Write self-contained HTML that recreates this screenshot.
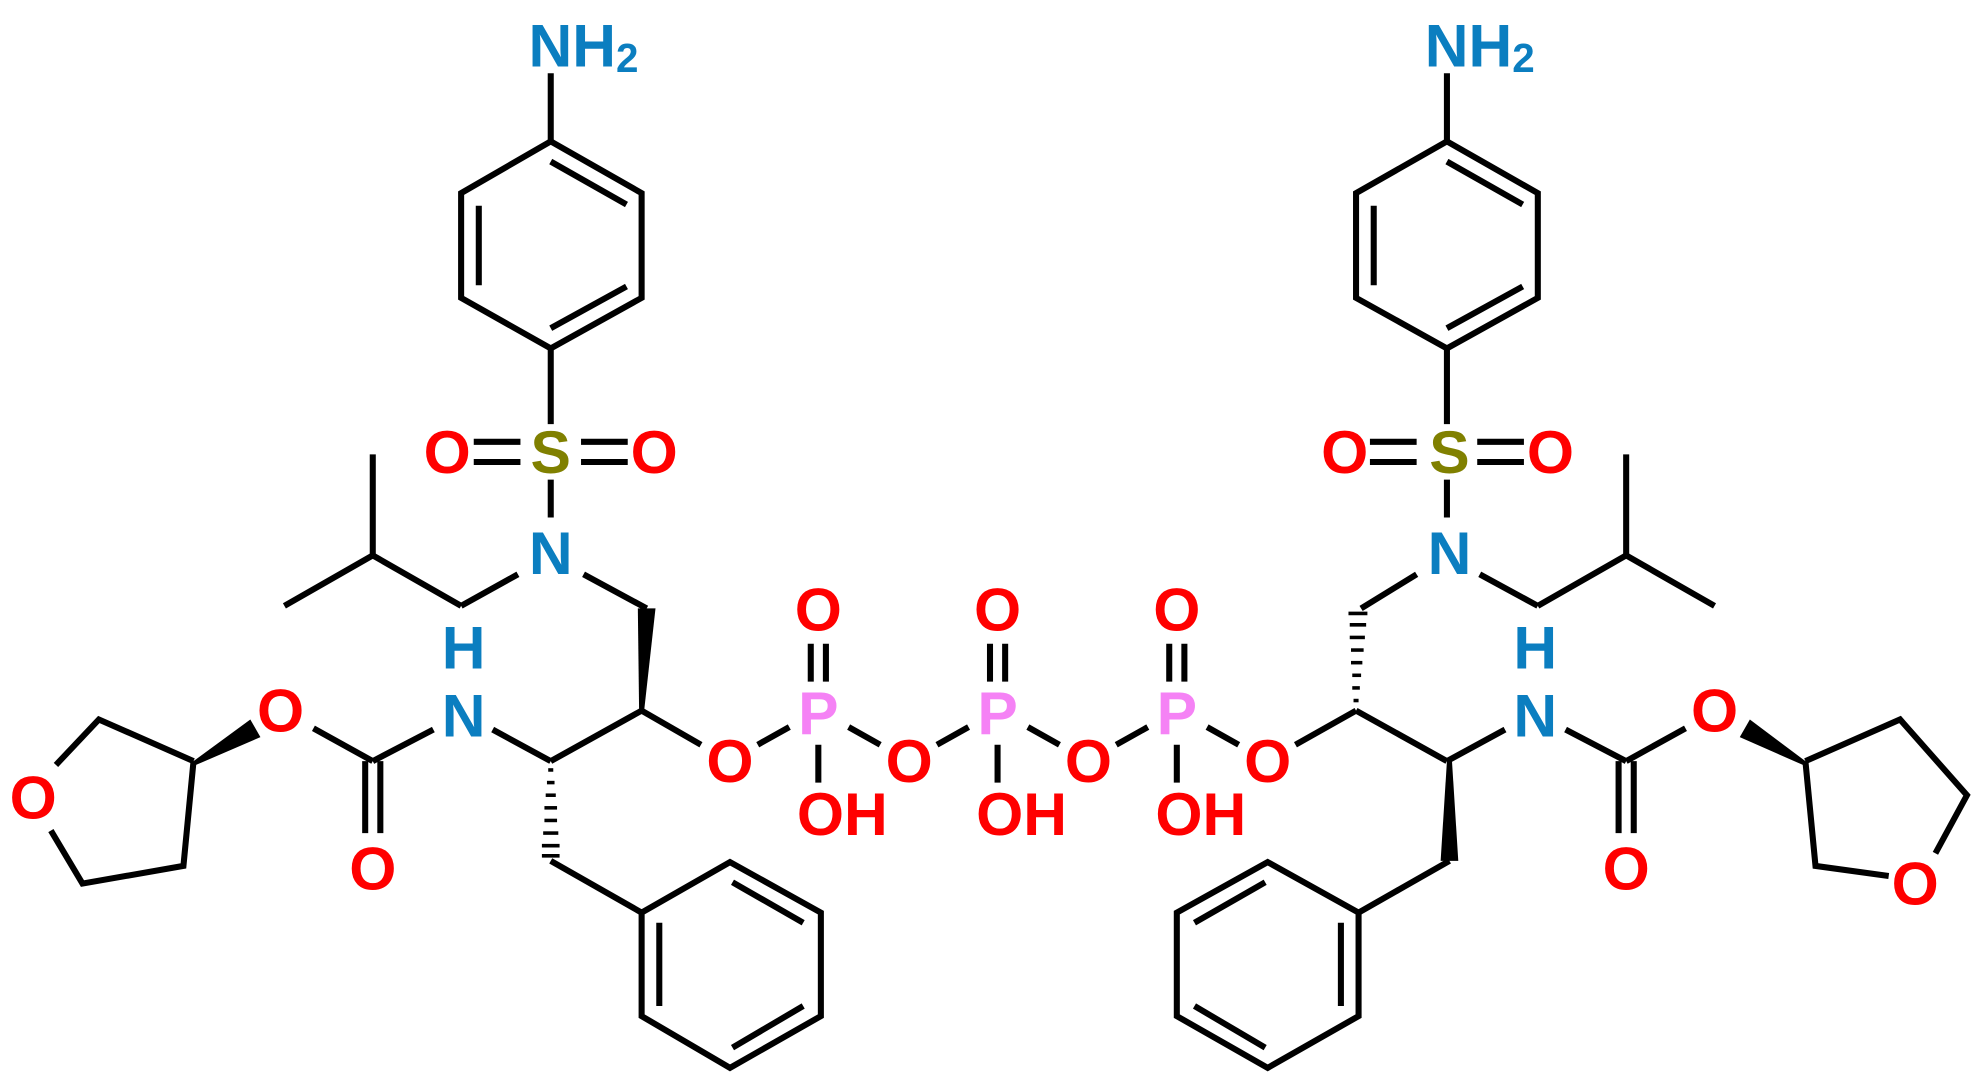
<!DOCTYPE html>
<html><head><meta charset="utf-8"><style>
html,body{margin:0;padding:0;background:#fff;width:1980px;height:1083px;overflow:hidden}
svg{display:block}
text{font-family:"Liberation Sans",sans-serif;font-weight:bold;font-size:48px;text-anchor:middle;dominant-baseline:central}
.O{fill:#ff0000}.N{fill:#0b7ec0}.S{fill:#808000}.P{fill:#f582f5}
</style></head><body>
<svg width="1980" height="1083" viewBox="0 0 1568 858" xmlns="http://www.w3.org/2000/svg">
<g stroke="#000" stroke-width="4.8" fill="none" stroke-linecap="butt">
<!-- LEFT -->
<line x1="436" y1="58" x2="436" y2="112"/>
<polygon points="436,112 508,153 508,236 436,276 365,236 365,153" stroke-linejoin="miter"/>
<line x1="436" y1="128" x2="496" y2="162"/>
<line x1="379" y1="163" x2="379" y2="226"/>
<line x1="436" y1="260" x2="496" y2="227"/>
<line x1="436" y1="276" x2="436" y2="336"/>
<line x1="375" y1="350" x2="412" y2="350"/><line x1="375" y1="366" x2="412" y2="366"/>
<line x1="460" y1="350" x2="497" y2="350"/><line x1="460" y1="366" x2="497" y2="366"/>
<line x1="436" y1="380" x2="436" y2="410"/>
<line x1="410" y1="455" x2="365" y2="480"/>
<line x1="365" y1="480" x2="295" y2="440"/>
<line x1="295" y1="440" x2="295" y2="360"/>
<line x1="295" y1="440" x2="225" y2="480"/>
<line x1="462" y1="455" x2="512" y2="482"/>
<line x1="508" y1="563" x2="555" y2="590"/>
<line x1="508" y1="563" x2="436" y2="603"/>
<line x1="436" y1="603" x2="390" y2="578"/>
<line x1="343" y1="578" x2="295" y2="603"/>
<line x1="289" y1="603" x2="289" y2="660"/><line x1="301" y1="603" x2="301" y2="660"/>
<line x1="295" y1="603" x2="248" y2="577"/>
<polyline points="153,603 78,570 44,606"/>
<polyline points="40,658 65,700 145,686 153,603"/>
<line x1="436" y1="682" x2="508" y2="723"/>
<polygon points="508,723 578,683 650,723 650,805 578,846 508,805"/>
<line x1="580" y1="699" x2="636" y2="731"/>
<line x1="522" y1="731" x2="522" y2="797"/>
<line x1="580" y1="830" x2="636" y2="797"/>
<!-- phosphates -->
<line x1="600" y1="590" x2="625" y2="576"/>
<line x1="642" y1="510" x2="642" y2="540"/><line x1="654" y1="510" x2="654" y2="540"/>
<line x1="648" y1="590" x2="648" y2="620"/>
<line x1="672" y1="576" x2="697" y2="590"/>
<line x1="742" y1="590" x2="767" y2="576"/>
<line x1="784" y1="510" x2="784" y2="540"/><line x1="796" y1="510" x2="796" y2="540"/>
<line x1="790" y1="590" x2="790" y2="620"/>
<line x1="814" y1="576" x2="839" y2="590"/>
<line x1="884" y1="590" x2="909" y2="576"/>
<line x1="926" y1="510" x2="926" y2="540"/><line x1="938" y1="510" x2="938" y2="540"/>
<line x1="932" y1="590" x2="932" y2="620"/>
<line x1="956" y1="576" x2="981" y2="590"/>
<line x1="1026" y1="590" x2="1074" y2="563"/>
<!-- RIGHT -->
<line x1="1146" y1="58" x2="1146" y2="112"/>
<polygon points="1146,112 1218,153 1218,236 1146,276 1074,236 1074,153"/>
<line x1="1146" y1="128" x2="1206" y2="162"/>
<line x1="1088" y1="163" x2="1088" y2="226"/>
<line x1="1146" y1="260" x2="1206" y2="227"/>
<line x1="1146" y1="276" x2="1146" y2="336"/>
<line x1="1085" y1="350" x2="1122" y2="350"/><line x1="1085" y1="366" x2="1122" y2="366"/>
<line x1="1170" y1="350" x2="1207" y2="350"/><line x1="1170" y1="366" x2="1207" y2="366"/>
<line x1="1146" y1="380" x2="1146" y2="410"/>
<line x1="1078" y1="482" x2="1122" y2="455"/>
<line x1="1172" y1="455" x2="1218" y2="480"/>
<line x1="1218" y1="480" x2="1288" y2="440"/>
<line x1="1288" y1="440" x2="1288" y2="360"/>
<line x1="1288" y1="440" x2="1358" y2="480"/>
<line x1="1074" y1="563" x2="1146" y2="603"/>
<line x1="1146" y1="603" x2="1192" y2="578"/>
<line x1="1240" y1="578" x2="1288" y2="603"/>
<line x1="1282" y1="603" x2="1282" y2="660"/><line x1="1294" y1="603" x2="1294" y2="660"/>
<line x1="1288" y1="603" x2="1335" y2="577"/>
<polyline points="1430,603 1505,570 1558,630 1533,676"/>
<polyline points="1496,694 1438,686 1430,603"/>
<line x1="1148" y1="682" x2="1076" y2="723"/>
<polygon points="1076,723 1004,683 932,723 932,805 1004,846 1076,805"/>
<line x1="1002" y1="699" x2="946" y2="731"/>
<line x1="1062" y1="731" x2="1062" y2="797"/>
<line x1="946" y1="797" x2="1002" y2="830"/>
</g>
<!-- wedges -->
<g fill="#000">
<polygon points="505,482 519,482 510,563 506,563"/>
<polygon points="153,603 155,606 206,584 198,570"/>
<polygon points="1146,603 1150,603 1155,682 1141,682"/>
<polygon points="1430,603 1428,606 1378,584 1386,570"/>
</g>
<!-- hashes -->
<g stroke="#000" stroke-width="2.8">
<line x1="434" y1="610" x2="438" y2="610"/><line x1="433" y1="620" x2="439" y2="620"/><line x1="432" y1="630" x2="440" y2="630"/><line x1="431" y1="640" x2="441" y2="640"/><line x1="431" y1="650" x2="441" y2="650"/><line x1="430" y1="660" x2="442" y2="660"/><line x1="429" y1="670" x2="443" y2="670"/><line x1="429" y1="678" x2="443" y2="678"/>
<line x1="1072" y1="555" x2="1076" y2="555"/><line x1="1071" y1="545" x2="1077" y2="545"/><line x1="1071" y1="535" x2="1078" y2="535"/><line x1="1070" y1="525" x2="1079" y2="525"/><line x1="1070" y1="515" x2="1080" y2="515"/><line x1="1069" y1="505" x2="1081" y2="505"/><line x1="1069" y1="495" x2="1082" y2="495"/><line x1="1068" y1="486" x2="1083" y2="486"/>
</g>
<!-- labels -->
<text x="462" y="36" class="N">NH<tspan font-size="32" dy="10">2</tspan></text>
<text x="436" y="358" class="S">S</text>
<text x="354" y="358" class="O">O</text>
<text x="518" y="358" class="O">O</text>
<text x="436" y="438" class="N">N</text>
<text x="367" y="513" class="N">H</text>
<text x="367" y="567" class="N">N</text>
<text x="295" y="688" class="O">O</text>
<text x="222" y="563" class="O">O</text>
<text x="26" y="632" class="O">O</text>
<text x="578" y="603" class="O">O</text>
<text x="648" y="565" class="P">P</text>
<text x="648" y="483" class="O">O</text>
<text x="667" y="645" class="O">OH</text>
<text x="720" y="603" class="O">O</text>
<text x="790" y="565" class="P">P</text>
<text x="790" y="483" class="O">O</text>
<text x="809" y="645" class="O">OH</text>
<text x="862" y="603" class="O">O</text>
<text x="932" y="565" class="P">P</text>
<text x="932" y="483" class="O">O</text>
<text x="951" y="645" class="O">OH</text>
<text x="1004" y="603" class="O">O</text>
<text x="1172" y="36" class="N">NH<tspan font-size="32" dy="10">2</tspan></text>
<text x="1148" y="358" class="S">S</text>
<text x="1065" y="358" class="O">O</text>
<text x="1228" y="358" class="O">O</text>
<text x="1148" y="438" class="N">N</text>
<text x="1216" y="513" class="N">H</text>
<text x="1216" y="567" class="N">N</text>
<text x="1288" y="688" class="O">O</text>
<text x="1358" y="563" class="O">O</text>
<text x="1517" y="700" class="O">O</text>
</svg>
</body></html>
